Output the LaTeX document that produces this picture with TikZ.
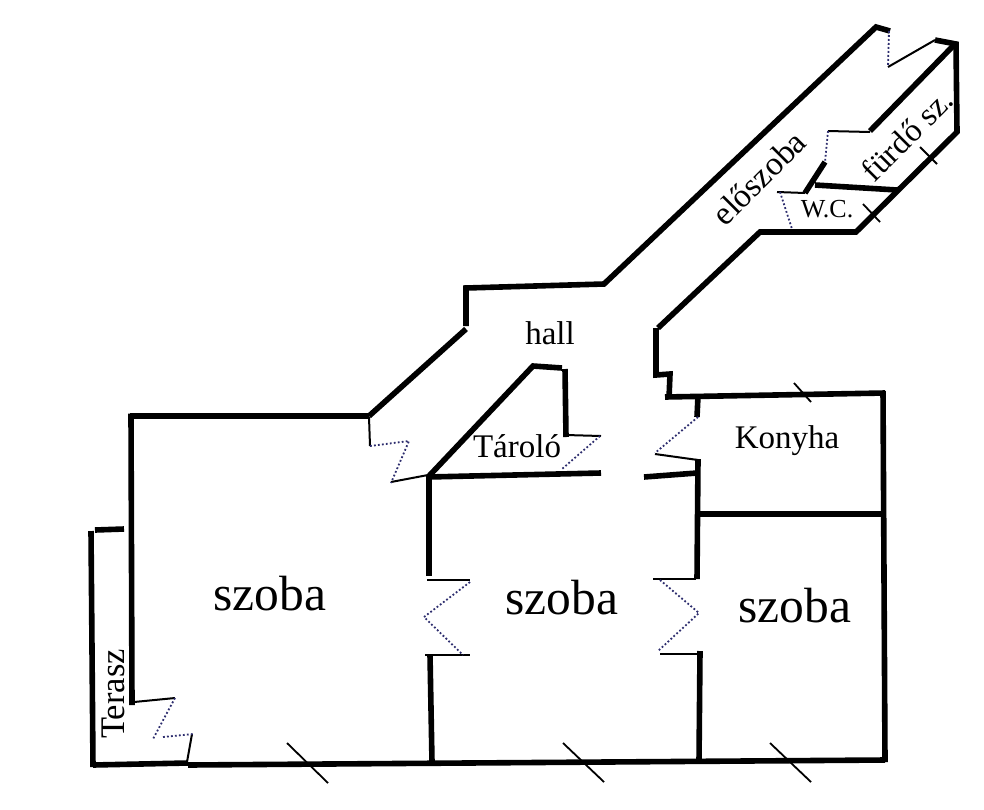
\documentclass[tikz,border=0pt]{standalone}
\usepackage{fontspec}
\setmainfont{Liberation Serif}
\tikzset{
  wall/.style={line width=5.6pt,line cap=butt,line join=miter},
  thinw/.style={line width=2pt},
  tick/.style={line width=1.8pt},
  dot/.style={line width=1.8pt,color=dotblue,dash pattern=on 1.8pt off 2.2pt},
  lab/.style={inner sep=0pt,anchor=base,text=black},
}
\definecolor{dotblue}{RGB}{45,45,110}
\begin{document}
\begin{tikzpicture}[x=1pt,y=-1pt]
\useasboundingbox[fill=white] (0,0) rectangle (984,809);
% walls
\draw[wall] (658,328) -- (760,232) -- (856,232) -- (957,132) -- (956,44) -- (935,40);
\draw[wall] (369,416) -- (466,329);
\draw[wall] (466,326) -- (466,288) -- (604,284) -- (876,27) -- (890,31);
\draw[wall] (130,416) -- (369,416);
\draw[wall] (131,413.5) -- (132,705);
\draw[wall] (124,529) -- (95,530);
\draw[wall] (91,531) -- (93,767);
\draw[wall] (93,765) -- (188,763);
\draw[wall] (188,765) -- (885,760);
\draw[wall] (955,44) -- (870,131);
\draw[wall] (825,162) -- (805,193);
\draw[wall] (815,185) -- (897,190);
\draw[wall] (429,476) -- (533,366) -- (562,368);
\draw[wall] (565,369) -- (566,437);
\draw[wall] (428,477) -- (601,473);
\draw[wall] (644,477) -- (697,473);
\draw[wall] (429,475) -- (429,576);
\draw[wall] (430,655) -- (432,762);
\draw[wall] (656,328) -- (656,375) -- (670,374) -- (669,398);
\draw[wall] (665,397) -- (885,393);
\draw[wall] (883,391) -- (885,762);
\draw[wall] (698,396) -- (697,417);
\draw[wall] (698,459) -- (697,579);
\draw[wall] (698,514) -- (883,514);
\draw[wall] (700,651) -- (699,761);
% thin door leaves
\draw[thinw] (888,67) -- (935,40);
\draw[thinw] (870,132) -- (828,131);
\draw[thinw] (805,193) -- (777,192);
\draw[thinw] (369,417) -- (370,446);
\draw[thinw] (391,482) -- (428,475);
\draw[thinw] (566,435) -- (601,436);
\draw[thinw] (655,454) -- (698,460);
\draw[thinw] (134,702) -- (175,698);
\draw[thinw] (192,734) -- (187,762);
\draw[thinw] (427,580) -- (470,580);
\draw[thinw] (425,655) -- (470,655);
\draw[thinw] (653,579) -- (696,579);
\draw[thinw] (660,654) -- (700,654);
% dotted swings
\draw[dot] (889,31) -- (888,67);
\draw[dot] (828,131) -- (825,162);
\draw[dot] (780,192) -- (792,229);
\draw[dot] (370,446) -- (409,441) -- (391,483);
\draw[dot] (600,436) -- (562,469);
\draw[dot] (698,417) -- (655,453);
\draw[dot] (175,698) -- (153,739);
\draw[dot] (163,737) -- (193,734);
\draw[dot] (470,582) -- (424,617) -- (463,655);
\draw[dot] (660,580) -- (699,613) -- (658,651);
% window ticks
\draw[tick] (920,147) -- (937,164);
\draw[tick] (863,204) -- (880,222);
\draw[tick] (794,383) -- (811,402);
\draw[tick] (287,743) -- (328,783);
\draw[tick] (563,743) -- (604,782);
\draw[tick] (770,743) -- (811,782);
% labels
\node[lab,font=\fontsize{49.5}{49.5}\selectfont] (sz1) at (270,610) {szoba};
\node[lab,font=\fontsize{49.5}{49.5}\selectfont] (sz2) at (562,614) {szoba};
\node[lab,font=\fontsize{49.5}{49.5}\selectfont] (sz3) at (795,622) {szoba};
\node[lab,font=\fontsize{33}{33}\selectfont] (ko) at (787,448) {Konyha};
\node[lab,font=\fontsize{33}{33}\selectfont] (ha) at (550,344) {hall};
\node[lab,font=\fontsize{33}{33}\selectfont] (ta) at (517,457) {Tároló};
\node[lab,font=\fontsize{26}{26}\selectfont] (wc) at (827,217) {W.C.};
\node[lab,font=\fontsize{34.5}{34.5}\selectfont,rotate=90] (te) at (124,694) {Terasz};
\node[lab,font=\fontsize{33.5}{33.5}\selectfont,rotate=45] (el) at (767,186) {előszoba};
\node[lab,font=\fontsize{32.5}{32.5}\selectfont,rotate=45] (fu) at (915,143) {fürdő sz.};
\end{tikzpicture}
\end{document}
